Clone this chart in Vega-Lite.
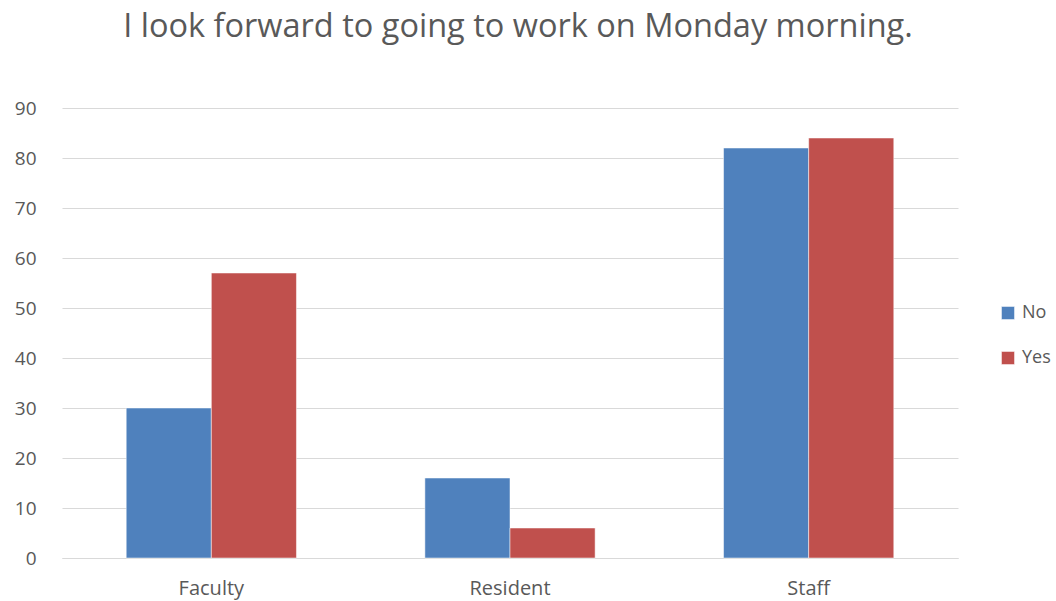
{
  "$schema": "https://vega.github.io/schema/vega-lite/v6.json",
  "autosize": {"type": "none"},
  "width": 896,
  "height": 450,
  "padding": {"left": 62, "top": 108, "right": 98, "bottom": 43},
  "background": "white",
  "title": {
    "text": "I look forward to going to work on Monday morning.",
    "font": "Open Sans",
    "fontSize": 32.5,
    "fontWeight": "normal",
    "color": "#595959",
    "anchor": "middle",
    "offset": 56,
    "dx": 8
  },
  "data": {
    "values": [
      {"group": "Faculty", "answer": "No", "count": 30},
      {"group": "Faculty", "answer": "Yes", "count": 57},
      {"group": "Resident", "answer": "No", "count": 16},
      {"group": "Resident", "answer": "Yes", "count": 6},
      {"group": "Staff", "answer": "No", "count": 82},
      {"group": "Staff", "answer": "Yes", "count": 84}
    ]
  },
  "mark": {"type": "bar"},
  "encoding": {
    "x": {
      "field": "group",
      "type": "nominal",
      "scale": {"paddingInner": 0.43, "paddingOuter": 0.215},
      "axis": {
        "title": null,
        "labelAngle": 0,
        "labelFont": "Open Sans",
        "labelFontSize": 20,
        "labelColor": "#595959",
        "labelPadding": 20,
        "ticks": false,
        "domainColor": "#D9D9D9",
        "domainWidth": 1
      }
    },
    "xOffset": {"field": "answer", "type": "nominal", "scale": {"paddingInner": 0}},
    "y": {
      "field": "count",
      "type": "quantitative",
      "scale": {"domain": [0, 90]},
      "axis": {
        "title": null,
        "values": [0, 10, 20, 30, 40, 50, 60, 70, 80, 90],
        "labelFont": "Open Sans",
        "labelFontSize": 19,
        "labelColor": "#595959",
        "labelPadding": 26,
        "ticks": false,
        "domain": false,
        "gridColor": "#D9D9D9",
        "gridWidth": 1
      }
    },
    "color": {
      "field": "answer",
      "type": "nominal",
      "scale": {"domain": ["No", "Yes"], "range": ["#4F81BD", "#C0504D"]},
      "legend": {
        "title": null,
        "orient": "none",
        "legendX": 937,
        "legendY": 196,
        "symbolType": "square",
        "symbolSize": 170,
        "symbolStrokeWidth": 0,
        "labelFont": "Open Sans",
        "labelFontSize": 18,
        "labelColor": "#595959",
        "rowPadding": 27,
        "labelOffset": 5,
        "padding": 0
      }
    }
  },
  "config": {
    "view": {"stroke": null},
    "bar": {"stroke": "white", "strokeWidth": 0.5}
  }
}
